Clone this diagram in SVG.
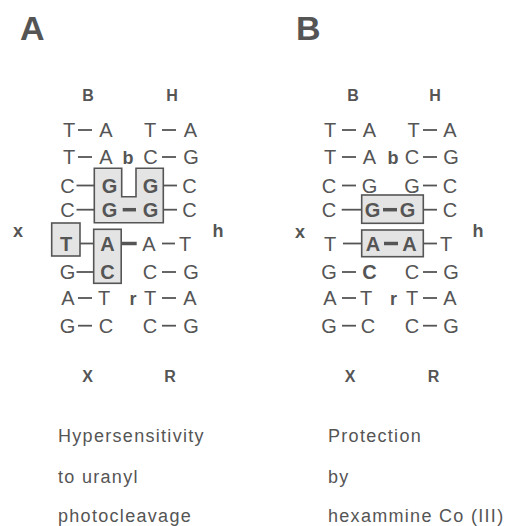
<svg xmlns="http://www.w3.org/2000/svg" width="506" height="526" viewBox="0 0 506 526">
<style>
text{font-family:"Liberation Sans",Arial,Helvetica,sans-serif;fill:#555}
.t{font-size:34px;font-weight:bold}
.n{font-size:20px;text-anchor:middle}
.nb{font-size:20px;text-anchor:middle;font-weight:bold}
.l{font-size:16px;font-weight:bold;text-anchor:middle}
.s{font-size:18px;font-weight:bold;text-anchor:middle}
.c{font-size:18px;letter-spacing:1.3px}
.box{fill:#e4e4e4;stroke:#555;stroke-width:1.6}
.bd{stroke:#555;stroke-width:1.8}
.bb{stroke:#555;stroke-width:3.5}
</style>
<rect width="506" height="526" fill="#fff"/>

<!-- Panel A -->
<g id="A-title"><text class="t" x="20" y="40">A</text></g>
<g id="A-boxes">
<path class="box" d="M94.3,168.3 H121.7 V196.7 H136 V168.3 H163.3 V222.7 H94.3 Z"/>
<rect class="box" x="51.7" y="223" width="28.3" height="33"/>
<rect class="box" x="93.7" y="229.3" width="27.5" height="54"/>
</g>
<g id="A-connectors">
<line class="bd" x1="78" y1="130" x2="92" y2="130"/><line class="bd" x1="162" y1="130" x2="176" y2="130"/>
<line class="bd" x1="78" y1="157" x2="92" y2="157"/><line class="bd" x1="162" y1="157" x2="176" y2="157"/>
<line class="bd" x1="76.5" y1="185.5" x2="94.3" y2="185.5"/><line class="bd" x1="163.3" y1="185.5" x2="177" y2="185.5"/>
<line class="bd" x1="76.5" y1="209.7" x2="94.3" y2="209.7"/><line class="bd" x1="163.3" y1="209.7" x2="177" y2="209.7"/>
<line class="bb" x1="122.7" y1="209.7" x2="136" y2="209.7"/>
<line class="bd" x1="80" y1="243.5" x2="93.7" y2="243.5"/>
<line class="bb" x1="121.2" y1="243.5" x2="136.7" y2="243.5"/>
<line class="bd" x1="162" y1="243.5" x2="175" y2="243.5"/>
<line class="bd" x1="76.5" y1="272" x2="93.7" y2="272"/><line class="bd" x1="162" y1="272" x2="176" y2="272"/>
<line class="bd" x1="78" y1="298" x2="92" y2="298"/><line class="bd" x1="162" y1="298" x2="176" y2="298"/>
<line class="bd" x1="78" y1="325.7" x2="92" y2="325.7"/><line class="bd" x1="162" y1="325.7" x2="176" y2="325.7"/>
</g>
<g id="A-labels">
<text class="l" x="88" y="101">B</text>
<text class="l" x="172" y="101">H</text>
<text class="l" x="87.5" y="382">X</text>
<text class="l" x="170" y="382">R</text>
<text class="s" x="18" y="237">x</text>
<text class="s" x="218" y="237">h</text>
<text class="s" x="128" y="164">b</text>
<text class="s" x="133" y="305">r</text>
</g>
<g id="A-bases">
<text class="n" x="69" y="137">T</text><text class="n" x="106" y="137">A</text><text class="n" x="150" y="137">T</text><text class="n" x="190.5" y="137">A</text>
<text class="n" x="69" y="164">T</text><text class="n" x="106" y="164">A</text><text class="n" x="150.5" y="164">C</text><text class="n" x="191" y="164">G</text>
<text class="n" x="67.5" y="192.7">C</text><text class="nb" x="109.5" y="192.7">G</text><text class="nb" x="150.5" y="192.7">G</text><text class="n" x="189.5" y="192.7">C</text>
<text class="n" x="67.5" y="216.9">C</text><text class="nb" x="109.5" y="216.9">G</text><text class="nb" x="150.5" y="216.9">G</text><text class="n" x="189.5" y="216.9">C</text>
<text class="nb" x="66" y="250.7">T</text><text class="nb" x="107.5" y="250.7">A</text><text class="n" x="149" y="250.7">A</text><text class="n" x="185" y="250.7">T</text>
<text class="n" x="67.5" y="279.2">G</text><text class="nb" x="107.5" y="279.2">C</text><text class="n" x="150" y="279.2">C</text><text class="n" x="191" y="279.2">G</text>
<text class="n" x="68" y="305.2">A</text><text class="n" x="104" y="305.2">T</text><text class="n" x="150" y="305.2">T</text><text class="n" x="190" y="305.2">A</text>
<text class="n" x="67.5" y="332.9">G</text><text class="n" x="106" y="332.9">C</text><text class="n" x="150" y="332.9">C</text><text class="n" x="191" y="332.9">G</text>
</g>
<g id="A-caption">
<text class="c" x="58" y="442">Hypersensitivity</text>
<text class="c" x="58" y="483">to uranyl</text>
<text class="c" x="58" y="521.5">photocleavage</text>
</g>

<!-- Panel B -->
<g id="B-title"><text class="t" x="296" y="40">B</text></g>
<g id="B-boxes">
<rect class="box" x="361.7" y="195" width="61.6" height="28.3"/>
<rect class="box" x="361.7" y="230" width="61.6" height="26.7"/>
</g>
<g id="B-connectors">
<line class="bd" x1="342" y1="130" x2="356" y2="130"/><line class="bd" x1="423" y1="130" x2="437" y2="130"/>
<line class="bd" x1="342" y1="157" x2="356" y2="157"/><line class="bd" x1="423" y1="157" x2="437" y2="157"/>
<line class="bd" x1="342" y1="185.5" x2="356" y2="185.5"/><line class="bd" x1="423" y1="185.5" x2="437" y2="185.5"/>
<line class="bd" x1="341.7" y1="209.7" x2="361.7" y2="209.7"/><line class="bd" x1="423.3" y1="209.7" x2="437" y2="209.7"/>
<line class="bb" x1="383" y1="209.7" x2="397" y2="209.7"/>
<line class="bd" x1="343" y1="243.5" x2="361.7" y2="243.5"/><line class="bd" x1="423.3" y1="243.5" x2="437" y2="243.5"/>
<line class="bb" x1="384" y1="243.5" x2="398" y2="243.5"/>
<line class="bd" x1="342" y1="272" x2="356" y2="272"/><line class="bd" x1="423" y1="272" x2="437" y2="272"/>
<line class="bd" x1="342" y1="298" x2="356" y2="298"/><line class="bd" x1="423" y1="298" x2="437" y2="298"/>
<line class="bd" x1="342" y1="325.7" x2="356" y2="325.7"/><line class="bd" x1="423" y1="325.7" x2="437" y2="325.7"/>
</g>
<g id="B-labels">
<text class="l" x="353" y="101">B</text>
<text class="l" x="435" y="101">H</text>
<text class="l" x="350" y="382">X</text>
<text class="l" x="433.5" y="382">R</text>
<text class="s" x="300" y="238">x</text>
<text class="s" x="478" y="237">h</text>
<text class="s" x="393" y="164">b</text>
<text class="s" x="393.5" y="305">r</text>
</g>
<g id="B-bases">
<text class="n" x="330" y="137">T</text><text class="n" x="369.5" y="137">A</text><text class="n" x="413.5" y="137">T</text><text class="n" x="450" y="137">A</text>
<text class="n" x="330" y="164">T</text><text class="n" x="369.5" y="164">A</text><text class="n" x="412" y="164">C</text><text class="n" x="451" y="164">G</text>
<text class="n" x="329" y="192.7">C</text><text class="n" x="369.5" y="192.7">G</text><text class="n" x="412" y="192.7">G</text><text class="n" x="450" y="192.7">C</text>
<text class="n" x="329" y="216.9">C</text><text class="nb" x="372.5" y="216.9">G</text><text class="nb" x="407.5" y="216.9">G</text><text class="n" x="450" y="216.9">C</text>
<text class="n" x="330" y="250.7">T</text><text class="nb" x="373" y="250.7">A</text><text class="nb" x="409.5" y="250.7">A</text><text class="n" x="446" y="250.7">T</text>
<text class="n" x="329" y="279.2">G</text><text class="nb" x="369.5" y="279.2">C</text><text class="n" x="412" y="279.2">C</text><text class="n" x="451" y="279.2">G</text>
<text class="n" x="330" y="305.2">A</text><text class="n" x="366" y="305.2">T</text><text class="n" x="412" y="305.2">T</text><text class="n" x="450" y="305.2">A</text>
<text class="n" x="329" y="332.9">G</text><text class="n" x="368" y="332.9">C</text><text class="n" x="412" y="332.9">C</text><text class="n" x="451" y="332.9">G</text>
</g>
<g id="B-caption">
<text class="c" x="328" y="442">Protection</text>
<text class="c" x="328" y="483">by</text>
<text class="c" x="328" y="521.5">hexammine Co (III)</text>
</g>
</svg>
